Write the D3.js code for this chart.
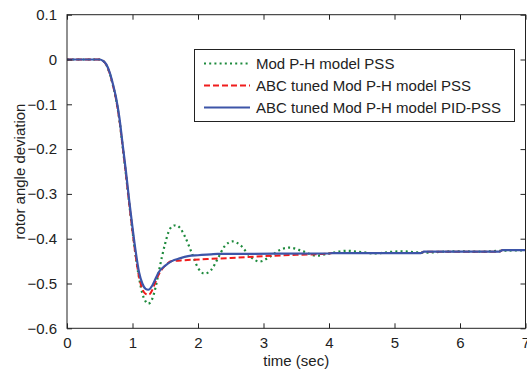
<!DOCTYPE html>
<html>
<head>
<meta charset="utf-8">
<script src="https://cdn.jsdelivr.net/npm/d3@7"></script>
<style>
  body { margin: 0; background: #fff; }
  text { font-family: "Liberation Sans", Arial, sans-serif; fill: #222; }
</style>
</head>
<body>
<svg id="chart" width="527" height="369"></svg>
<script>
// x ticks / y ticks
var xTicks = [0, 1, 2, 3, 4, 5, 6, 7];
var yTicks = [0.1, 0, -0.1, -0.2, -0.3, -0.4, -0.5, -0.6];

// Mod P-H model PSS (green dotted)
var greenT = [0, 0.5, 0.55, 0.6, 0.65, 0.7, 0.75, 0.8, 0.85, 0.9, 0.95, 1.0, 1.05, 1.1, 1.15, 1.2, 1.24, 1.3, 1.35, 1.4, 1.45, 1.5, 1.55, 1.6, 1.66, 1.72, 1.8, 1.9, 2.0, 2.1, 2.2, 2.3, 2.4, 2.53, 2.65, 2.8, 2.94, 3.1, 3.25, 3.4, 3.6, 3.81, 4.0, 4.27, 4.5, 4.7, 4.9, 5.1, 5.3, 5.5, 5.75, 6.0, 6.3, 6.6, 7.0];
var greenV = [0, 0, -0.003, -0.012, -0.03, -0.057, -0.09, -0.135, -0.195, -0.257, -0.322, -0.383, -0.44, -0.487, -0.522, -0.54, -0.545, -0.535, -0.51, -0.475, -0.44, -0.41, -0.385, -0.373, -0.37, -0.375, -0.395, -0.43, -0.465, -0.478, -0.47, -0.445, -0.418, -0.406, -0.415, -0.44, -0.451, -0.44, -0.425, -0.42, -0.428, -0.438, -0.433, -0.427, -0.43, -0.433, -0.43, -0.428, -0.43, -0.431, -0.429, -0.428, -0.429, -0.427, -0.426];

// ABC tuned Mod P-H model PSS (red dashed)
var redT = [0, 0.5, 0.55, 0.6, 0.65, 0.7, 0.75, 0.8, 0.85, 0.9, 0.95, 1.0, 1.05, 1.1, 1.15, 1.2, 1.25, 1.3, 1.35, 1.4, 1.5, 1.6, 1.8, 2.2, 2.5, 3.0, 3.5, 4.0, 4.05, 5.4, 5.45, 6.6, 6.65, 7.0];
var redV = [0, 0, -0.003, -0.012, -0.03, -0.057, -0.09, -0.135, -0.195, -0.257, -0.322, -0.383, -0.44, -0.485, -0.512, -0.523, -0.525, -0.515, -0.497, -0.48, -0.46, -0.45, -0.448, -0.445, -0.443, -0.439, -0.436, -0.433, -0.432, -0.432, -0.429, -0.429, -0.4255, -0.4255];

// ABC tuned Mod P-H model PID-PSS (blue solid)
var blueT = [0, 0.5, 0.55, 0.6, 0.65, 0.7, 0.75, 0.8, 0.85, 0.9, 0.95, 1.0, 1.05, 1.1, 1.15, 1.2, 1.24, 1.3, 1.35, 1.4, 1.5, 1.6, 1.72, 1.85, 2.0, 2.2, 2.3, 4.0, 4.05, 5.4, 5.45, 6.6, 6.65, 7.0];
var blueV = [0, 0, -0.003, -0.011, -0.028, -0.054, -0.086, -0.13, -0.19, -0.25, -0.315, -0.375, -0.43, -0.475, -0.5, -0.512, -0.514, -0.505, -0.49, -0.475, -0.46, -0.45, -0.444, -0.439, -0.437, -0.435, -0.434, -0.433, -0.432, -0.432, -0.429, -0.429, -0.4255, -0.4255];

var legendNames = ["Mod P-H model PSS", "ABC tuned Mod P-H model PSS", "ABC tuned Mod P-H model PID-PSS"];

var pLeft = 67, pRight = 525.5, pTop = 14.7, pBottom = 328.3;
var fontSize = "15px";

var svg = d3.select("#chart");

var x = d3.scaleLinear().domain([0, 7]).range([pLeft, pRight]);
var y = d3.scaleLinear().domain([-0.6, 0.1]).range([pBottom, pTop]);

var series = [
  { t: greenT, v: greenV, color: "#1d8a3c", dash: "2,3.2", width: 2.2 },
  { t: redT, v: redV, color: "#f01c1c", dash: "6,3", width: 2 },
  { t: blueT, v: blueV, color: "#3d55a8", dash: null, width: 2.2 }
];

var line = d3.line()
    .x(d => x(d[0]))
    .y(d => y(d[1]))
    .curve(d3.curveMonotoneX);

// clip to axes box
svg.append("clipPath").attr("id", "clip")
  .append("rect").attr("x", pLeft).attr("y", pTop)
  .attr("width", pRight - pLeft).attr("height", pBottom - pTop);

var plot = svg.append("g").attr("clip-path", "url(#clip)");

series.forEach(function(s){
  var pts = s.t.map((t, i) => [t, s.v[i]]);
  plot.append("path")
      .attr("d", line(pts))
      .attr("fill", "none")
      .attr("stroke", s.color)
      .attr("stroke-width", s.width)
      .attr("stroke-dasharray", s.dash);
});

// axes: ticks point inward on all four sides (matlab box)
var tickLen = 5;
svg.append("g").attr("transform", "translate(0," + pBottom + ")")
  .call(d3.axisBottom(x).tickValues(xTicks).tickSizeInner(-tickLen).tickSizeOuter(0).tickPadding(9).tickFormat(d3.format("d")));
svg.append("g").attr("transform", "translate(0," + pTop + ")")
  .call(d3.axisTop(x).tickValues(xTicks).tickSizeInner(-tickLen).tickSizeOuter(0).tickFormat(""));
svg.append("g").attr("transform", "translate(" + pLeft + ",0)")
  .call(d3.axisLeft(y).tickValues(yTicks).tickSizeInner(-tickLen).tickSizeOuter(0).tickPadding(10).tickFormat(d => d === 0 ? "0" : d3.format(".1f")(d)));
svg.append("g").attr("transform", "translate(" + pRight + ",0)")
  .call(d3.axisRight(y).tickValues(yTicks).tickSizeInner(-tickLen).tickSizeOuter(0).tickFormat(""));

svg.selectAll(".domain").remove();
svg.selectAll(".tick line").attr("stroke", "#222");
svg.selectAll(".tick text").style("font-size", fontSize).attr("fill", "#222");

svg.append("rect")
    .attr("x", pLeft).attr("y", pTop)
    .attr("width", pRight - pLeft).attr("height", pBottom - pTop)
    .attr("fill", "none").attr("stroke", "#222").attr("stroke-width", 1);

// axis labels
svg.append("text")
    .attr("x", (pLeft + pRight) / 2).attr("y", 366)
    .attr("text-anchor", "middle").style("font-size", fontSize)
    .text("time (sec)");
svg.append("text")
    .attr("transform", "translate(25," + ((pTop + pBottom) / 2) + ") rotate(-90)")
    .attr("text-anchor", "middle").style("font-size", fontSize)
    .text("rotor angle deviation");

// legend
var legend = svg.append("g");
legend.append("rect")
    .attr("x", 194.5).attr("y", 49.5).attr("width", 320).attr("height", 72)
    .attr("fill", "#fff").attr("stroke", "#222").attr("stroke-width", 1);

legendNames.forEach(function(name, i){
  var cy = 63.5 + i * 22;
  legend.append("line")
      .attr("x1", 204).attr("x2", 250).attr("y1", cy).attr("y2", cy)
      .attr("stroke", series[i].color)
      .attr("stroke-width", series[i].width)
      .attr("stroke-dasharray", series[i].dash);
  legend.append("text")
      .attr("x", 256).attr("y", cy + 5)
      .style("font-size", fontSize)
      .text(name);
});
</script>
</body>
</html>
